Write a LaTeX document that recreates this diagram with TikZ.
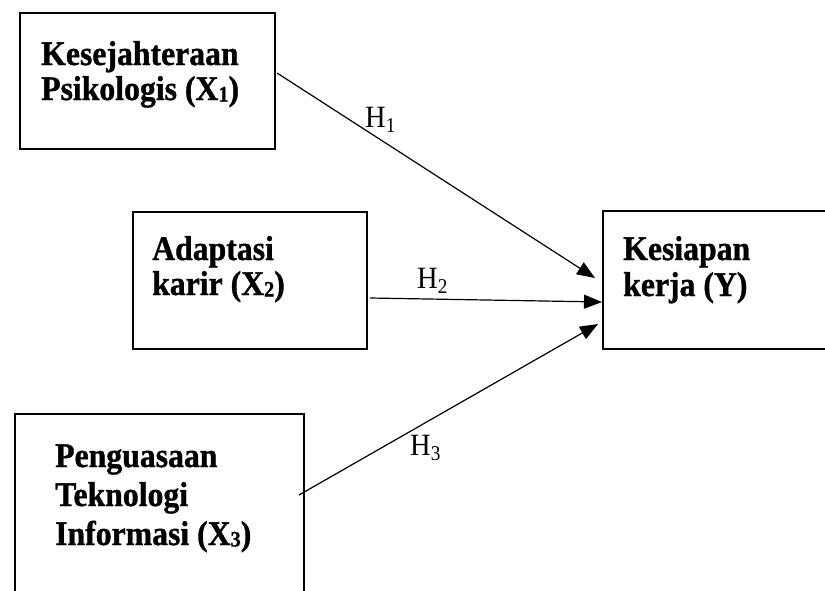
\documentclass[tikz,border=0pt]{standalone}
\usepackage{fontspec}
\setmainfont{Liberation Serif}[FakeStretch=0.92, BoldFeatures={FakeBold=1}]
\usetikzlibrary{arrows.meta}
\newcommand{\bsub}[1]{\raisebox{-1.5pt}{\fontsize{22}{22}\selectfont #1}}
\newcommand{\hsub}[1]{\raisebox{-5pt}{\fontsize{21}{21}\selectfont #1}}
\begin{document}
\begin{tikzpicture}[x=1pt,y=-1pt,
  box/.style={draw, line width=2pt, inner sep=0pt, anchor=north west},
  lbl/.style={font=\bfseries\fontsize{34.5}{37}\selectfont, anchor=base west, inner sep=0pt},
  hyp/.style={font=\fontsize{31}{31}\selectfont, anchor=base west, inner sep=0pt},
  conn/.style={line width=1.2pt, -{Triangle[length=18pt,width=14pt]}}]
\useasboundingbox (0,0) rectangle (825,590);
\clip (0,0) rectangle (825,590);
% boxes
\node[box, minimum width=255pt, minimum height=136pt] (b1) at (19,12) {};
\node[box, minimum width=234pt, minimum height=137pt] (b2) at (132,211) {};
\node[box, minimum width=240pt, minimum height=138pt] (by) at (602,210) {};
\node[box, minimum width=289pt, minimum height=200pt] (b3) at (14,413) {};
% box texts
\node[lbl] (t1a) at (41,65) {Kesejahteraan};
\node[lbl] (t1b) at (41,100) {Psikologis (X\bsub{1})};
\node[lbl] (t2a) at (152,260) {Adaptasi};
\node[lbl] (t2b) at (152,295) {karir (X\bsub{2})};
\node[lbl] (tya) at (623,260) {Kesiapan};
\node[lbl] (tyb) at (623,296) {kerja (Y)};
\node[lbl] (t3a) at (55,467) {Penguasaan};
\node[lbl] (t3b) at (55,506) {Teknologi};
\node[lbl] (t3c) at (55,545) {Informasi (X\bsub{3})};
% connector end points
\coordinate (s1) at (277,73);
\coordinate (e1) at (595,278);
\coordinate (s2) at (370,298);
\coordinate (e2) at (602,302);
\coordinate (s3) at (299,495);
\coordinate (e3) at (598,324);
\draw[conn] (s1) -- (e1);
\draw[conn] (s2) -- (e2);
\draw[conn] (s3) -- (e3);
% hypothesis labels
\node[hyp] (h1) at (365,127) {H\hsub{1}};
\node[hyp] (h2) at (417,288) {H\hsub{2}};
\node[hyp] (h3) at (410,455) {H\hsub{3}};
\end{tikzpicture}
\end{document}
